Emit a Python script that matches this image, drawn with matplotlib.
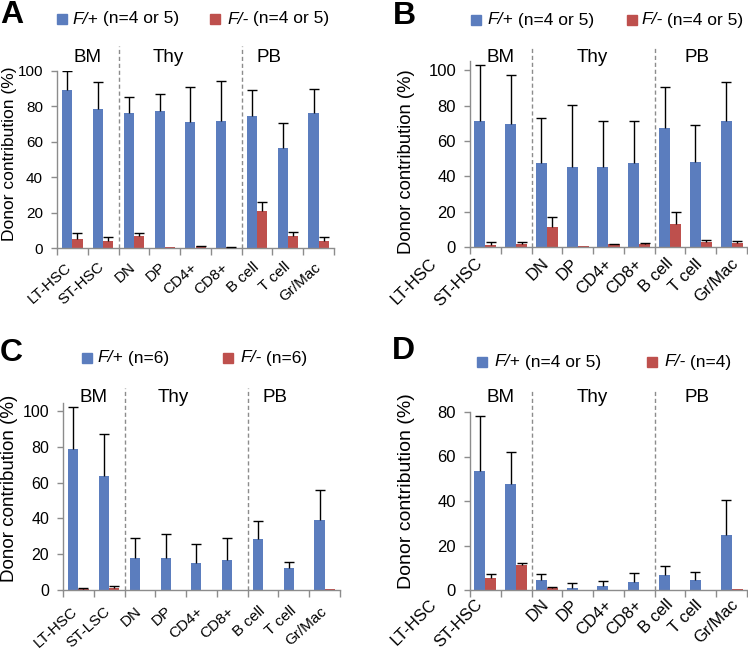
import numpy as np
import matplotlib.pyplot as plt
from matplotlib.patches import Rectangle

plt.rcParams['font.family'] = ['Liberation Sans', 'DejaVu Sans']

categories = ['LT-HSC', 'ST-HSC', 'DN', 'DP', 'CD4+', 'CD8+', 'B cell', 'T cell', 'Gr/Mac']
categories_c = ['LT-HSC', 'ST-LSC', 'DN', 'DP', 'CD4+', 'CD8+', 'B cell', 'T cell', 'Gr/Mac']
groups = ['BM', 'Thy', 'PB']

# panel A
a_fplus = [89.0, 78.5, 76.0, 77.3, 71.0, 71.4, 74.2, 56.5, 76.0]
a_fplus_err = [11.0, 14.9, 9.3, 9.5, 20.0, 23.0, 14.7, 13.8, 13.8]
a_fminus = [5.3, 3.9, 7.0, 0.3, 1.0, 0.6, 20.9, 6.8, 3.9]
a_fminus_err = [3.3, 2.1, 1.3, 0.0, 0.2, 0.2, 5.2, 2.0, 2.1]

# panel B
b_fplus = [71.3, 69.6, 47.7, 45.1, 45.1, 47.4, 67.4, 48.1, 71.3]
b_fplus_err = [31.9, 27.6, 25.1, 35.3, 26.0, 23.7, 23.2, 20.8, 21.9]
b_fminus = [1.3, 1.5, 11.3, 0.3, 1.5, 1.5, 13.0, 3.0, 2.5]
b_fminus_err = [1.7, 1.1, 5.9, 0.0, 0.3, 0.8, 6.8, 1.2, 0.9]

# panel C
c_fplus = [79.0, 63.9, 18.1, 18.1, 14.9, 16.8, 28.3, 12.1, 38.9]
c_fplus_err = [23.2, 23.1, 11.1, 13.2, 11.0, 12.4, 10.1, 3.7, 17.2]
c_fminus = [0.5, 1.3, 0.1, 0.0, 0.0, 0.0, 0.0, 0.2, 0.3]
c_fminus_err = [0.6, 0.8, 0.0, 0.0, 0.0, 0.0, 0.0, 0.0, 0.0]

# panel D
d_fplus = [53.6, 47.6, 4.4, 1.1, 1.8, 3.6, 6.9, 4.7, 24.5]
d_fplus_err = [24.4, 14.6, 2.8, 1.9, 2.3, 4.2, 3.9, 3.3, 16.0]
d_fminus = [5.3, 11.3, 1.0, 0.0, 0.0, 0.2, 0.0, 0.2, 0.3]
d_fminus_err = [1.8, 1.0, 0.2, 0.0, 0.0, 0.0, 0.0, 0.0, 0.0]

BLUE = '#5B7DBE'
RED = '#BE504D'
GRAY = '#8C8C8C'
W, H = 748, 651

fig = plt.figure(figsize=(W / 100, H / 100), dpi=100)


def px(x, y):
    # figure pixels measured from the top-left corner
    return x / W, 1 - y / H


def legend_item(ax, x_sq, x_txt, y, color, geno, note, fs):
    fig.patches.append(Rectangle(px(x_sq, y + 5), 10 / W, 10 / H,
                                 transform=fig.transFigure, color=color))
    t = fig.text(*px(x_txt, y), geno, fontsize=fs, style='italic', va='center')
    ax.annotate(note, xy=(1, 0), xycoords=t, va='bottom', ha='left',
                fontsize=fs, annotation_clip=False)


def draw_panel(p):
    left, top, y0 = p['box']
    ymax = p['ymax']
    ax = fig.add_axes([left / W, 1 - y0 / H, 277 / W, (y0 - top) / H])
    x = np.arange(len(p['cats']))
    w = p['bar_w']
    ax.bar(x - w / 2, p['fplus'], w, color=BLUE, zorder=2)
    ax.bar(x + w / 2, p['fminus'], w, color=RED, zorder=2)
    for xs, vals, errs in [(x - w / 2, p['fplus'], p['fplus_err']),
                           (x + w / 2, p['fminus'], p['fminus_err'])]:
        errs = np.asarray(errs)
        keep = errs > 0
        eb = ax.errorbar(xs[keep], np.asarray(vals)[keep],
                         yerr=[np.zeros(keep.sum()), errs[keep]],
                         fmt='none', ecolor='black', elinewidth=1,
                         capsize=3.5, capthick=1, zorder=3)
        eb[1][0].set_visible(False)

    ax.set_xlim(-0.5, len(x) - 0.5)
    ax.set_ylim(0, ymax)
    ax.set_yticks(p['yticks'])
    ax.set_xticks(x)
    ax.set_xticks(np.arange(-0.5, len(x), 1), minor=True)
    ax.tick_params(axis='x', which='major', length=0, labelbottom=False)
    ax.tick_params(axis='x', which='minor', length=5, color=GRAY, width=1)
    ax.tick_params(axis='y', length=4, color=GRAY, width=1, labelsize=p['yfs'], pad=6)
    for s in ['top', 'right']:
        ax.spines[s].set_visible(False)
    for s in ['left', 'bottom']:
        ax.spines[s].set_color(GRAY)
        ax.spines[s].set_linewidth(1)

    # category labels, rotated, top-right corner near each category
    for i, cat in enumerate(p['cats']):
        ax.annotate(cat, xy=(i, 0), xycoords=('data', 'axes fraction'),
                    xytext=(p['lab_dx'][i], -p['lab_dy']), textcoords='offset pixels',
                    rotation=p['lab_rot'], ha='right', va='top',
                    fontsize=p['xfs'], annotation_clip=False)

    for b in [1.5, 5.5]:
        ax.plot([b, b], [0, p['dash_top']], ls=(0, (3, 2)), color=GRAY,
                lw=1, clip_on=False)
    for g, gx in zip(groups, p['group_x']):
        ax.text(gx, p['group_y'], g, ha='center', va='center', fontsize=13.5)

    ax.set_ylabel('Donor contribution (%)', fontsize=p['ylabel_fs'])
    ax.yaxis.set_label_coords(*p['ylabel_xy'])

    fig.text(*px(*p['letter_xy']), p['letter'], fontsize=23, fontweight='bold',
             va='top', ha='left')
    (bsq, btx, rsq, rtx, ly) = p['legend']
    legend_item(ax, bsq, btx, ly, BLUE, 'F/+', ' ' + p['notes'][0], 12.5)
    legend_item(ax, rsq, rtx, ly, RED, 'F/-', ' ' + p['notes'][1], 12.5)
    return ax


shift_ac = [2, 4, 4, 4, 4, 4, 5, 5, 5]
shift_bd = [-46, -31, 5, 3, 6, 5, 6, 4, 9]

panels = [
    dict(letter='A', box=(57, 70.7, 248), ymax=100, yticks=range(0, 101, 20),
         cats=categories, fplus=a_fplus, fplus_err=a_fplus_err,
         fminus=a_fminus, fminus_err=a_fminus_err, xfs=11, yfs=11, bar_w=0.33,
         lab_dx=shift_ac, lab_dy=12, lab_rot=42,
         dash_top=114, group_x=[0.5, 3.1, 6.4], group_y=107.7,
         ylabel_fs=12.5, ylabel_xy=(-0.145, 0.53), letter_xy=(0, 0),
         legend=(57, 72, 210, 227, 19), notes=['(n=4 or 5)', '(n=4 or 5)']),
    dict(letter='B', box=(470, 61.5, 247), ymax=105, yticks=range(0, 101, 20),
         cats=categories, fplus=b_fplus, fplus_err=b_fplus_err,
         fminus=b_fminus, fminus_err=b_fminus_err, xfs=12, yfs=12, bar_w=0.36,
         lab_dx=shift_bd, lab_dy=9, lab_rot=45,
         dash_top=113, group_x=[0.5, 3.47, 6.86], group_y=107.5,
         ylabel_fs=13.3, ylabel_xy=(-0.198, 0.46), letter_xy=(393, 1),
         legend=(471, 487, 627, 641, 20), notes=['(n=4 or 5)', '(n=4 or 5)']),
    dict(letter='C', box=(63, 403, 590), ymax=104.5, yticks=range(0, 101, 20),
         cats=categories_c, fplus=c_fplus, fplus_err=c_fplus_err,
         fminus=c_fminus, fminus_err=c_fminus_err, xfs=11, yfs=11.5, bar_w=0.33,
         lab_dx=shift_ac, lab_dy=14, lab_rot=42,
         dash_top=113, group_x=[0.5, 3.07, 6.4], group_y=107.8,
         ylabel_fs=13.5, ylabel_xy=(-0.162, 0.545), letter_xy=(0, 338),
         legend=(82, 97, 223, 240, 358), notes=['(n=6)', '(n=6)']),
    dict(letter='D', box=(470, 412, 590), ymax=80, yticks=range(0, 81, 20),
         cats=categories, fplus=d_fplus, fplus_err=d_fplus_err,
         fminus=d_fminus, fminus_err=d_fminus_err, xfs=12, yfs=12, bar_w=0.36,
         lab_dx=shift_bd, lab_dy=7, lab_rot=45,
         dash_top=90, group_x=[0.48, 3.47, 6.86], group_y=86.7,
         ylabel_fs=14, ylabel_xy=(-0.198, 0.556), letter_xy=(392, 336),
         legend=(477, 494, 647, 664, 362), notes=['(n=4 or 5)', '(n=4)']),
]

for p in panels:
    draw_panel(p)

fig.savefig('out.png', dpi=100)
